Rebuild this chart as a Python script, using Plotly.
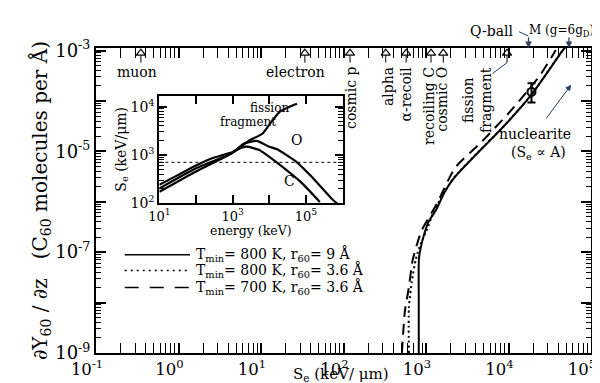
import numpy as np
import plotly.graph_objects as go

# ---------------- data ----------------
# main panel: electronic stopping S_e (keV/um) vs dY60/dz
se_solid = [817, 817, 820, 863, 937, 1076, 1306, 1680, 2200, 4300, 8200, 18900, 43000, 51000]
y_solid = [1e-9, 1.05e-8, 7.2e-8, 1.23e-7, 2.1e-7, 4.07e-7, 6.6e-7, 1.55e-6, 3.0e-6, 9.6e-6, 2.8e-5, 1.32e-4, 8.9e-4, 1.29e-3]

se_dotted = [620, 620, 673, 752, 863, 1019, 1236, 1680, 2200, 4300, 8200, 18900, 43000, 51000]
y_dotted = [1e-9, 7.8e-9, 2.6e-8, 7.2e-8, 1.5e-7, 2.7e-7, 6.3e-7, 1.58e-6, 3.05e-6, 9.7e-6, 2.8e-5, 1.32e-4, 8.9e-4, 1.29e-3]

se_dashed = [510, 555, 620, 692, 887, 1350, 2250, 4600, 10500, 24000, 37500]
y_dashed = [1e-9, 6.8e-9, 2.0e-8, 7.2e-8, 2.7e-7, 9.1e-7, 4.7e-6, 1.48e-5, 6.2e-5, 3.2e-4, 1.02e-3]

# measured point with error bar
pt_se = [19000]
pt_y = [1.51e-4]
pt_err_plus = [0.73e-4]
pt_err_minus = [0.58e-4]

# particle S_e markers along the top
particles = ["muon", "electron", "cosmic p", "alpha", "α-recoil", "recoiling C", "cosmic O", "fission<br>fragment"]
particle_se = [0.35, 34, 120, 325, 575, 1150, 1620, 9600]
qball_se = 17500
monopole_se = 54000

# inset: S_e (keV/um) vs energy (keV)
ff_E = [10, 30, 100, 300, 1000, 1500, 3000, 6500, 11500, 19500, 36000, 57000]
ff_S = [240, 370, 600, 870, 1150, 1400, 2050, 2750, 4900, 7900, 10000, 11500]
o_E = [10, 100, 1000, 2000, 4500, 10000, 16000, 56000, 130000, 290000, 550000, 1000000]
o_S = [200, 525, 1100, 1700, 1950, 1480, 1320, 710, 380, 195, 115, 80]
c_E = [10, 100, 800, 1300, 2400, 5400, 6500, 23000, 82000, 240000]
c_S = [170, 450, 1000, 1260, 1480, 1260, 1150, 560, 250, 105]
threshold_S = 700

legend_labels = ["T<sub>min</sub>= 800 K, r<sub>60</sub>= 9 Å",
                 "T<sub>min</sub>= 800 K, r<sub>60</sub>= 3.6 Å",
                 "T<sub>min</sub>= 700 K, r<sub>60</sub>= 3.6 Å"]

FONT = "DejaVu Serif"
BLK = "black"

fig = go.Figure()

# main curves
fig.add_trace(go.Scatter(x=se_dashed, y=y_dashed, mode="lines",
                         line=dict(color=BLK, width=2, dash="11px,7px", shape="spline", smoothing=0.6)))
fig.add_trace(go.Scatter(x=se_dotted, y=y_dotted, mode="lines",
                         line=dict(color=BLK, width=2, dash="2px,3px", shape="spline", smoothing=0.6)))
fig.add_trace(go.Scatter(x=se_solid, y=y_solid, mode="lines",
                         line=dict(color=BLK, width=2, shape="spline", smoothing=0.6)))
fig.add_trace(go.Scatter(x=pt_se, y=pt_y, mode="markers",
                         marker=dict(symbol="circle-open", size=8, color=BLK, line=dict(width=2)),
                         error_y=dict(type="data", symmetric=False, array=pt_err_plus,
                                      arrayminus=pt_err_minus, color=BLK, thickness=2, width=4)))

# inset curves
for E, S in [(ff_E, ff_S), (o_E, o_S), (c_E, c_S)]:
    fig.add_trace(go.Scatter(x=E, y=S, mode="lines", xaxis="x2", yaxis="y2",
                             line=dict(color=BLK, width=2.2, shape="spline", smoothing=0.5)))
fig.add_trace(go.Scatter(x=[10, 1e6], y=[threshold_S, threshold_S], mode="lines", xaxis="x2", yaxis="y2",
                         line=dict(color=BLK, width=1, dash="3px,3px")))

# open-triangle arrows along the top (hidden overlay axis in plot fraction)
sx, sy = [], []
for v in particle_se:
    sx += [v, v, None]
    sy += [0.952, 0.975, None]
fig.add_trace(go.Scatter(x=sx, y=sy, mode="lines", yaxis="y3",
                         line=dict(color=BLK, width=1)))
fig.add_trace(go.Scatter(x=particle_se, y=[0.983] * len(particle_se), mode="markers", yaxis="y3",
                         cliponaxis=False,
                         marker=dict(symbol="triangle-up-open", size=8, color=BLK, line=dict(width=1.2))))

minor_vals = [m * 10.0 ** d for d in range(-12, 8) for m in range(2, 10)]

axis_common = dict(type="log", showline=True, linewidth=2, linecolor=BLK, mirror="allticks",
                   ticks="inside", ticklen=10, tickwidth=2, tickcolor=BLK, showgrid=False,
                   zeroline=False, tickfont=dict(family=FONT, size=16.5, color=BLK),
                   minor=dict(ticks="inside", ticklen=5, tickwidth=1.2, tickcolor=BLK,
                              tickvals=minor_vals, showgrid=False))

xdec = list(range(-1, 6))
ydec = list(range(-9, -2))
inset_x = list(range(1, 7))
inset_y = [2, 3, 4]

PLOT_TOP, PLOT_BOT = 40, 347   # pixel rows of the main frame
PH = PLOT_BOT - PLOT_TOP

def py(px):
    """pixel row -> paper fraction of the main frame"""
    return (PLOT_BOT - px) / PH

fig.update_layout(
    width=600, height=383,
    margin=dict(l=88, r=12, t=PLOT_TOP, b=383 - PLOT_BOT),
    paper_bgcolor="white", plot_bgcolor="white",
    showlegend=False,
    font=dict(family=FONT, color=BLK),
    xaxis=dict(axis_common, range=[-1, 5],
               tickvals=[10.0 ** d for d in xdec],
               ticktext=["10<sup>%d</sup>" % d for d in xdec],
               ticklabelshift=-9),
    yaxis=dict(axis_common, range=[-9, -2.95],
               tickvals=[10.0 ** d for d in ydec],
               ticktext=["10<sup>%d</sup>" % d if d % 2 else "" for d in ydec],
               tickfont=dict(family=FONT, size=18, color=BLK),
               title=dict(text="∂Y<sub>60</sub> / ∂z   (C<sub>60</sub> molecules per Å)",
                          font=dict(family=FONT, size=20), standoff=2)),
    xaxis2=dict(axis_common, domain=[0.128, 0.498], anchor="y2", range=[1, 6],
                tickvals=[10.0 ** d for d in inset_x],
                ticktext=["10<sup>%d</sup>" % d if d % 2 else "" for d in inset_x],
                tickfont=dict(family=FONT, size=13), ticklen=8,
                minor=dict(ticks="", showgrid=False)),
    yaxis2=dict(axis_common, domain=[py(196), py(88)], anchor="x2", range=[2, 4.23],
                tickvals=[10.0 ** d for d in inset_y],
                ticktext=["10<sup>%d</sup>" % d for d in inset_y],
                tickfont=dict(family=FONT, size=14), ticklen=8,
                title=dict(text="S<sub>e</sub> (keV/μm)", font=dict(family=FONT, size=14), standoff=0)),
    yaxis3=dict(overlaying="y", range=[0, 1], visible=False, fixedrange=True),
)

C = dict(xanchor="center", yanchor="middle", showarrow=False)
ann = []
# axis titles placed by hand
ann.append(dict(C, x=0.494, y=py(369), xref="paper", yref="paper", text="S<sub>e</sub> (keV/ μm)",
                font=dict(size=15)))
ann.append(dict(C, x=0.313, y=py(224), xref="paper", yref="paper", text="energy (keV)",
                font=dict(size=12.5)))
# horizontal particle labels
ann.append(dict(C, x=np.log10(particle_se[0]), y=py(64), xref="x", yref="paper", text=particles[0],
                xshift=-4, font=dict(size=14)))
ann.append(dict(C, x=np.log10(particle_se[1]), y=py(64), xref="x", yref="paper", text=particles[1],
                xshift=-9, font=dict(size=14)))
# rotated particle labels
for name, v, xs in zip(particles[2:], particle_se[2:], [1, 3, 0, -2, -1, -30]):
    ann.append(dict(x=np.log10(v), y=py(57), xref="x", yref="paper", text=name, textangle=-90,
                    xanchor="center", yanchor="top", showarrow=False, xshift=xs,
                    font=dict(size=14)))
# fission fragment leader
ann.append(dict(x=np.log10(particle_se[-1]), y=0.952, xref="x", yref="paper", text="",
                showarrow=True, arrowhead=0, arrowwidth=1, ax=-16, ay=12, standoff=0, startstandoff=0))
# Q-ball and monopole arrows
for v in [qball_se, monopole_se]:
    ann.append(dict(x=np.log10(v), y=1.0, xref="x", yref="paper", text="", showarrow=True,
                    arrowhead=2, arrowsize=1, arrowwidth=1.3, ax=0, ay=-12, standoff=0))
ann.append(dict(x=np.log10(qball_se), y=py(23), xref="x", yref="paper", text="Q-ball",
                xanchor="right", yanchor="middle", showarrow=False, xshift=-13, font=dict(size=14)))
ann.append(dict(x=np.log10(qball_se), y=py(28), xref="x", yref="paper", text="", showarrow=True,
                arrowhead=0, arrowwidth=1, ax=-11, ay=-5, standoff=0))
ann.append(dict(x=np.log10(qball_se), y=py(23), xref="x", yref="paper", text="M (g=6g<sub>D</sub>)",
                xanchor="left", yanchor="middle", showarrow=False, xshift=-2, font=dict(size=12)))
# nuclearite
ann.append(dict(C, x=0.886, y=py(127), xref="paper", yref="paper", text="nuclearite",
                font=dict(size=14)))
ann.append(dict(C, x=0.894, y=py(146), xref="paper", yref="paper", text="(S<sub>e</sub> ∝ A)",
                font=dict(size=14)))
ann.append(dict(x=0.96, y=py(77), xref="paper", yref="paper", text="", showarrow=True,
                arrowhead=2, arrowwidth=1, arrowsize=1.2, ax=-26, ay=35, standoff=0))
# inset labels
ann.append(dict(C, x=4.0, y=3.97, xref="x2", yref="y2", text="fission", font=dict(size=12)))
ann.append(dict(C, x=3.42, y=3.69, xref="x2", yref="y2", text="fragment", font=dict(size=12)))
ann.append(dict(C, x=4.74, y=3.3, xref="x2", yref="y2", text="O", font=dict(size=14)))
ann.append(dict(C, x=4.56, y=2.45, xref="x2", yref="y2", text="C", font=dict(size=14)))

# hand-drawn legend
shapes = []
rows = [py(248), py(264), py(281)]
dashes = ["solid", "2px,4px", "14px,11px"]
for r, d, lab in zip(rows, dashes, legend_labels):
    shapes.append(dict(type="line", xref="paper", yref="paper", x0=0.058, x1=0.19, y0=r, y1=r,
                       line=dict(color=BLK, width=1.5, dash=d)))
    ann.append(dict(x=0.198, y=r, xref="paper", yref="paper", text=lab, xanchor="left",
                    yanchor="middle", showarrow=False, font=dict(size=14)))

fig.update_layout(annotations=ann, shapes=shapes)
fig.write_html("out.html")
